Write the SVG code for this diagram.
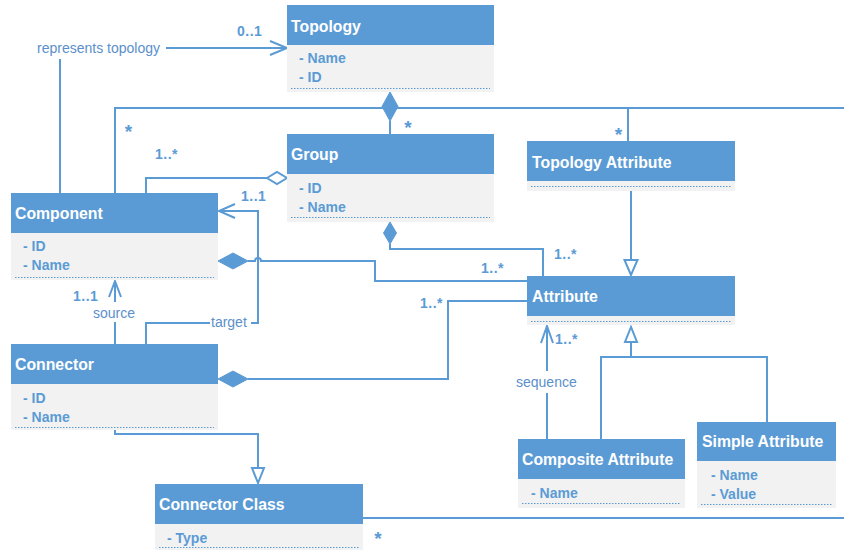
<svg xmlns="http://www.w3.org/2000/svg" width="844" height="550" viewBox="0 0 844 550">
<style>
.hd{fill:#5B9BD5}
.bd{fill:#F2F2F2}
.dl{stroke:#5B9BD5;stroke-width:1;stroke-dasharray:1.5 1.5;fill:none}
.tt{font-family:"Liberation Sans",Arial,sans-serif;font-weight:bold;font-size:15.8px;fill:#FFFFFF}
.at{font-family:"Liberation Sans",Arial,sans-serif;font-weight:bold;font-size:14px;fill:#5B9BD5}
.ln{stroke:#5B9BD5;stroke-width:2;fill:none}
.lb{font-family:"Liberation Sans",Arial,sans-serif;font-size:14px;fill:#5B8FCB}
.mu{font-family:"Liberation Sans",Arial,sans-serif;font-weight:bold;font-size:14px;letter-spacing:0.5px;fill:#5B9BD5}
.st{font-family:"Liberation Sans",Arial,sans-serif;font-weight:bold;font-size:19px;fill:#5B9BD5;text-anchor:middle}
.fd{fill:#5B9BD5;stroke:#5B9BD5;stroke-width:1}
.hw{fill:#FFFFFF;stroke:#5B9BD5;stroke-width:2}
</style>
<rect width="844" height="550" fill="#FFFFFF"/>

<g id="connectors">
  <!-- represents topology -->
  <path class="ln" d="M60,193 V59"/>
  <path class="ln" d="M166,48 H285"/>
  <polyline class="ln" points="270,41 287,48 270,55"/>
  <text class="lb" x="37" y="53">represents topology</text>
  <text class="mu" x="237" y="36">0..1</text>
  <!-- Topology composition -->
  <path class="ln" d="M390,121 V134"/>
  <path class="ln" d="M115,193 V108 H844"/>
  <path class="ln" d="M628,108 V141"/>
  <polygon class="fd" points="390,92 398,106.5 390,121 382,106.5"/>
  <text class="st" x="128.5" y="138">*</text>
  <text class="st" x="408" y="134">*</text>
  <text class="st" x="618.5" y="141">*</text>
  <!-- Group aggregation -->
  <path class="ln" d="M146,193 V178 H267"/>
  <polygon class="hw" points="267,178 277,172 287,178 277,184"/>
  <text class="mu" x="155" y="159">1..*</text>
  <!-- target -->
  <path class="ln" d="M146,344 V323 H210"/>
  <path class="ln" d="M251,323 H258 V211 H220"/>
  <polyline class="ln" points="235,204 219,211 235,218"/>
  <text class="lb" x="211" y="327">target</text>
  <text class="mu" x="241" y="201">1..1</text>
  <!-- source -->
  <path class="ln" d="M115,344 V322"/>
  <path class="ln" d="M115,302 V282"/>
  <polyline class="ln" points="109,297 115,281 121,297"/>
  <text class="lb" x="93" y="318">source</text>
  <text class="mu" x="73" y="301">1..1</text>
  <!-- Component composition -->
  <path class="ln" d="M248,261 H255 A3,3 0 0 1 261,261 H375 V281 H527"/>
  <polygon class="fd" points="218,261 233,253 248,261 233,269"/>
  <text class="mu" x="481" y="273">1..*</text>
  <!-- Group composition -->
  <path class="ln" d="M390,244 V249 H543 V276"/>
  <polygon class="fd" points="390,222 396.5,233 390,244 383.5,233"/>
  <text class="mu" x="554" y="259">1..*</text>
  <!-- Connector composition -->
  <path class="ln" d="M248,379 H448 V301 H527"/>
  <polygon class="fd" points="218,379 233,371 248,379 233,387"/>
  <text class="mu" x="420" y="308">1..*</text>
  <!-- Topology Attribute generalization -->
  <path class="ln" d="M631,191 V260"/>
  <polygon class="hw" points="631,275 624.5,260 637.5,260"/>
  <!-- sequence -->
  <path class="ln" d="M547,439 V393"/>
  <path class="ln" d="M547,371 V328"/>
  <polyline class="ln" points="541,343 547,326 553,343"/>
  <text class="lb" x="516" y="387">sequence</text>
  <text class="mu" x="555" y="344">1..*</text>
  <!-- Attribute generalization -->
  <path class="ln" d="M601,439 V357 H767 V422"/>
  <path class="ln" d="M631,357 V342"/>
  <polygon class="hw" points="631,327 625,342 637,342"/>
  <!-- Connector generalization -->
  <path class="ln" d="M115,430 V434 H258 V468"/>
  <polygon class="hw" points="258,483 252,468 264,468"/>
  <!-- Connector Class -->
  <path class="ln" d="M363,518 H844"/>
  <text class="st" x="378" y="545">*</text>
</g>

<g id="topology">
  <rect class="bd" x="287" y="45" width="207" height="47"/>
  <rect class="hd" x="287" y="5" width="207" height="40"/>
  <line class="dl" x1="291" y1="88.5" x2="490" y2="88.5"/>
  <text class="tt" x="291" y="31.5">Topology</text>
  <text class="at" x="299" y="63">- Name</text>
  <text class="at" x="299" y="82">- ID</text>
</g>

<g id="group">
  <rect class="bd" x="287" y="174" width="207" height="48"/>
  <rect class="hd" x="287" y="134" width="207" height="40"/>
  <line class="dl" x1="291" y1="217.5" x2="490" y2="217.5"/>
  <text class="tt" x="291" y="160">Group</text>
  <text class="at" x="299" y="193">- ID</text>
  <text class="at" x="299" y="212">- Name</text>
</g>

<g id="component">
  <rect class="bd" x="11" y="233" width="207" height="47"/>
  <rect class="hd" x="11" y="193" width="207" height="40"/>
  <line class="dl" x1="15" y1="277.5" x2="214" y2="277.5"/>
  <text class="tt" x="15" y="218.5">Component</text>
  <text class="at" x="23" y="251">- ID</text>
  <text class="at" x="23" y="270">- Name</text>
</g>

<g id="connector">
  <rect class="bd" x="11" y="384" width="207" height="46"/>
  <rect class="hd" x="11" y="344" width="207" height="40"/>
  <line class="dl" x1="15" y1="427.5" x2="214" y2="427.5"/>
  <text class="tt" x="15" y="369.5">Connector</text>
  <text class="at" x="23" y="403">- ID</text>
  <text class="at" x="23" y="422">- Name</text>
</g>

<g id="topology-attribute">
  <rect class="bd" x="527" y="181" width="208" height="10"/>
  <rect class="hd" x="527" y="141" width="208" height="40"/>
  <line class="dl" x1="531" y1="186.5" x2="731" y2="186.5"/>
  <text class="tt" x="532" y="167.5">Topology Attribute</text>
</g>

<g id="attribute">
  <rect class="bd" x="527" y="316" width="208" height="9"/>
  <rect class="hd" x="527" y="276" width="208" height="40"/>
  <line class="dl" x1="531" y1="321.5" x2="731" y2="321.5"/>
  <text class="tt" x="532" y="301.5">Attribute</text>
</g>

<g id="composite-attribute">
  <rect class="bd" x="518" y="479" width="167" height="29"/>
  <rect class="hd" x="518" y="439" width="167" height="40"/>
  <line class="dl" x1="522" y1="503.5" x2="681" y2="503.5"/>
  <text class="tt" x="522" y="464.5">Composite Attribute</text>
  <text class="at" x="531" y="498">- Name</text>
</g>

<g id="simple-attribute">
  <rect class="bd" x="697" y="461" width="139" height="47"/>
  <rect class="hd" x="697" y="422" width="139" height="39"/>
  <line class="dl" x1="701" y1="504.5" x2="832" y2="504.5"/>
  <text class="tt" x="702" y="447">Simple Attribute</text>
  <text class="at" x="711" y="480">- Name</text>
  <text class="at" x="711" y="499">- Value</text>
</g>

<g id="connector-class">
  <rect class="bd" x="155" y="524" width="208" height="26"/>
  <rect class="hd" x="155" y="484" width="208" height="40"/>
  <line class="dl" x1="159" y1="547.5" x2="359" y2="547.5"/>
  <text class="tt" x="159" y="509.5">Connector Class</text>
  <text class="at" x="167" y="543">- Type</text>
</g>
</svg>
